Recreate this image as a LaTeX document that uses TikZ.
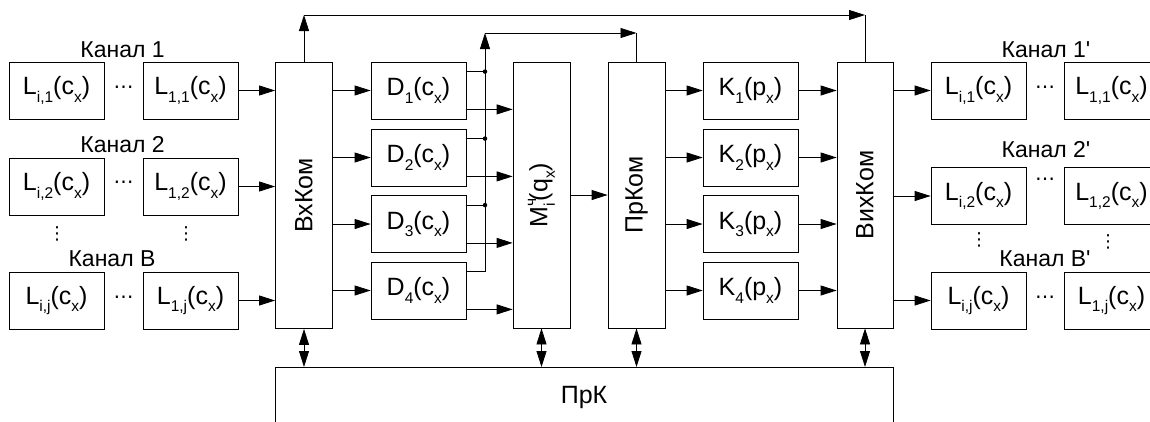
\documentclass[tikz,border=0pt]{standalone}
\usepackage{fontspec}
\setmainfont{Liberation Sans}
\newfontfamily\symf{DejaVu Sans}
\usetikzlibrary{arrows.meta}

% lowered and raised indices in text type
\newcommand\dn[1]{\raisebox{-0.3em}{\fontsize{15.5}{16}\selectfont #1}}
\newcommand\upx[1]{\raisebox{0.45em}{\fontsize{15.5}{16}\selectfont #1}}
\newcommand\lbl{\fontsize{25}{27}\selectfont}
\newcommand\chn{\fontsize{23}{25}\selectfont}

\tikzset{
  lw/.style={line width=0.8pt},
  blk/.style={draw, lw, minimum width=95pt, minimum height=57pt, inner sep=0pt, font=\lbl},
  tall/.style={draw, lw, minimum width=57pt, minimum height=266pt, inner sep=0pt},
  vlbl/.style={label={[rotate=90, font=\lbl]center:#1}},
  arr/.style={lw, -{Triangle[length=16pt, width=10pt]}},
  darr/.style={lw, {Triangle[length=16pt, width=10pt]}-{Triangle[length=16pt, width=10pt]}},
  jdot/.style={circle, fill, inner sep=0pt, minimum size=4.5pt},
  chname/.style={font=\chn, anchor=base, inner sep=0pt},
  hdots/.style={font=\symf\fontsize{20}{20}\selectfont, inner sep=0pt},
  vdots/.style={font=\symf\fontsize{18}{18}\selectfont, inner sep=0pt},
}

\begin{document}
\begin{tikzpicture}[x=1pt, y=-1pt]
\useasboundingbox (0,0) rectangle (1150,421);

% input channels
\node[chname] (c1) at (122.5,57) {Канал 1};
\node[chname] (c2) at (122.5,152) {Канал 2};
\node[chname] (cb) at (112,266) {Канал B};

\node[blk] (a1) at (56.5,90.5) {L\dn{i,1}(c\dn{x})};
\node[blk] (b1) at (190.5,90.5) {L\dn{1,1}(c\dn{x})};
\node[blk] (a2) at (56.5,186.5) {L\dn{i,2}(c\dn{x})};
\node[blk] (b2) at (190.5,186.5) {L\dn{1,2}(c\dn{x})};
\node[blk] (a3) at (56.5,300.5) {L\dn{i,j}(c\dn{x})};
\node[blk] (b3) at (190.5,300.5) {L\dn{1,j}(c\dn{x})};

\node[hdots] (h1) at (123.5,90) {⋯};
\node[hdots] (h2) at (123.5,185) {⋯};
\node[hdots] (h3) at (123.5,300) {⋯};
\node[vdots] (v1) at (57,234) {⋮};
\node[vdots] (v2) at (186,234) {⋮};

% switching and processing columns
\node[tall, vlbl=ВхКом] (vx) at (304,195.5) {};

\node[blk] (d1) at (418.5,90.5) {D\dn{1}(c\dn{x})};
\node[blk] (d2) at (418.5,157.5) {D\dn{2}(c\dn{x})};
\node[blk] (d3) at (418.5,224) {D\dn{3}(c\dn{x})};
\node[blk] (d4) at (418.5,290.5) {D\dn{4}(c\dn{x})};

\node[tall, vlbl={M\rlap{\upx{ч}}\dn{i}\hspace{2pt}(q\dn{x})}] (m) at (541.5,195) {};
\node[tall, vlbl=ПрКом] (pk) at (636.5,195) {};

\node[blk] (k1) at (750.5,90.5) {K\dn{1}(p\dn{x})};
\node[blk] (k2) at (750.5,157.5) {K\dn{2}(p\dn{x})};
\node[blk] (k3) at (750.5,224) {K\dn{3}(p\dn{x})};
\node[blk] (k4) at (750.5,290.5) {K\dn{4}(p\dn{x})};

\node[tall, minimum width=56pt, vlbl=ВихКом] (vy) at (865,195) {};

% output channels
\node[chname] (o1) at (1046,57) {Канал 1\textquotesingle};
\node[chname] (o2) at (1046,157) {Канал 2\textquotesingle};
\node[chname] (ob) at (1045,266) {Канал B\textquotesingle};

\node[blk] (p1) at (978.5,90.5) {L\dn{i,1}(c\dn{x})};
\node[blk] (q1) at (1111.5,90.5) {L\dn{1,1}(c\dn{x})};
\node[blk] (p2) at (978.5,196) {L\dn{i,2}(c\dn{x})};
\node[blk] (q2) at (1111.5,196) {L\dn{1,2}(c\dn{x})};
\node[blk] (p3) at (978.5,300.5) {L\dn{i,j}(c\dn{x})};
\node[blk] (q3) at (1111.5,300.5) {L\dn{1,j}(c\dn{x})};

\node[hdots] (g1) at (1045,90) {⋯};
\node[hdots] (g2) at (1045,182) {⋯};
\node[hdots] (g3) at (1045,300) {⋯};
\node[vdots] (w1) at (979,240) {⋮};
\node[vdots] (w2) at (1108,242) {⋮};

% control unit
\node[draw, lw, anchor=north, minimum width=618pt, inner sep=0pt,
      text height=36pt, text depth=60pt, font=\lbl] (prk) at (584,367) {ПрК};

% channel inputs to the input switch
\foreach \r in {1,2,3}
  \draw[arr] (b\r.east) -- (b\r.east -| vx.west);

% input switch to decoders
\foreach \r in {1,2,3,4}
  \draw[arr] (vx.east |- d\r.west) -- (d\r.west);

% decoder outputs
\coordinate (bt) at (485,33);
\foreach \r in {1,2,3,4} {
  \coordinate (u\r) at ([yshift=-10pt]d\r.north east);
  \coordinate (l\r) at ([yshift=10pt]d\r.south east);
  \draw[arr] (l\r) -- (l\r -| m.west);
}
\foreach \r in {1,2,3} {
  \draw[lw] (u\r) -- (u\r -| bt);
  \node[jdot] (j\r) at (u\r -| bt) {};
}
\draw[arr] (u4) -| (bt);
\coordinate (bc) at (bt -| pk.north);
\draw[arr] (bt) -- (bc);
\draw[lw] (bc) -- (pk.north);

% bypass from the input switch to the output switch
\coordinate (tt) at (vx.north |- 0,15);
\coordinate (tc) at (vy.north |- 0,15);
\draw[arr] (vx.north) -- (tt);
\draw[arr] (tt) -- (tc);
\draw[lw] (tc) -- (vy.north);

% main path
\draw[arr] (m.east) -- (m.east -| pk.west);
\foreach \r in {1,2,3,4} {
  \draw[arr] (pk.east |- k\r.west) -- (k\r.west);
  \draw[arr] (k\r.east) -- (k\r.east -| vy.west);
}
\foreach \r in {1,2,3}
  \draw[arr] (vy.east |- p\r.west) -- (p\r.west);

% links to the control unit
\foreach \n in {vx,m,pk,vy}
  \draw[darr] (\n.south) -- (\n.south |- prk.north);
\end{tikzpicture}
\end{document}
